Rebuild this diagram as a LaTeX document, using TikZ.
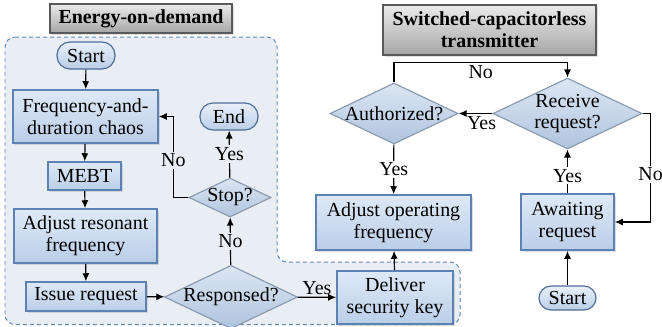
\documentclass[tikz,border=0pt]{standalone}
\usepackage{fontspec}
\setmainfont{Liberation Serif}
\usetikzlibrary{arrows.meta}
\usetikzlibrary{shapes.geometric}
\usetikzlibrary{shadows}

\definecolor{boxtop}{RGB}{222,233,247}
\definecolor{boxbot}{RGB}{186,206,232}
\definecolor{boxline}{RGB}{92,130,180}
\definecolor{diatop}{RGB}{220,230,243}
\definecolor{diabot}{RGB}{176,196,222}
\definecolor{dialine}{RGB}{140,155,175}
\definecolor{pillline}{RGB}{80,110,150}
\definecolor{regionbg}{RGB}{233,238,245}
\definecolor{regionline}{RGB}{95,135,185}

\tikzset{
  titlebox/.style={draw=black!65, line width=0.6pt, top color=black!8, bottom color=black!35,
    drop shadow={opacity=0.25, shadow xshift=1bp, shadow yshift=-1bp},
    font=\fontsize{10}{11}\selectfont\bfseries, align=center, inner sep=1bp},
  pill/.style={draw=pillline, line width=0.6pt, rounded corners=6.5bp, top color=boxtop!70!white, bottom color=boxbot,
    minimum width=29bp, minimum height=13.5bp, inner sep=1bp},
  procbox/.style={draw=boxline, line width=0.8pt, top color=boxtop, bottom color=boxbot,
    drop shadow={opacity=0.25, shadow xshift=1bp, shadow yshift=-1bp},
    align=center, inner sep=1bp},
  decision/.style={diamond, aspect=2.1, draw=dialine, line width=0.6pt, top color=diatop, bottom color=diabot,
    align=center, inner sep=0pt},
  tag/.style={inner sep=1bp}
}

\begin{document}
\begin{tikzpicture}[x=0.5bp, y=-0.5bp, font=\fontsize{10}{11}\selectfont]
	\useasboundingbox (0,0) rectangle (662,326);

	% energy-on-demand region
	\path[fill=regionbg, draw=regionline, line width=0.5pt, dash pattern=on 2bp off 1.5bp, rounded corners=5bp]
		(5,37) -- (277,37) -- (277,262) -- (460,262) -- (460,324.5) -- (5,324.5) -- cycle;

	\begin{scope}[every node/.style=titlebox]
		\node[minimum width=91bp, minimum height=14.5bp] (eod) at (141,18.5) {Energy-on-demand};
		\node[minimum width=106.5bp, minimum height=25bp] (sct) at (489.5,30) {Switched-capacitorless\\transmitter};
	\end{scope}

	\begin{scope}[every node/.style=pill]
		\node (start1) at (86,55.5) {Start};
		\node (end1) at (229,116.5) {End};
		\node[minimum width=28.5bp, minimum height=12bp, rounded corners=6bp] (start2) at (567.5,298) {Start};
	\end{scope}

	\begin{scope}[every node/.style=procbox]
		\node[minimum width=72.5bp, minimum height=26.5bp] (chaos) at (85.5,116.5) {Frequency-and-\\duration chaos};
		\node[minimum width=36.5bp, minimum height=14bp] (mebt) at (84.5,176) {MEBT};
		\node[minimum width=71.5bp, minimum height=27bp] (reso) at (85.5,236) {Adjust resonant\\frequency};
		\node[minimum width=60bp, minimum height=14.5bp] (issue) at (86,296.5) {Issue request};
		\node[minimum width=58bp, minimum height=26.5bp] (deliver) at (395,297.5) {Deliver\\security key};
		\node[minimum width=77.5bp, minimum height=27.5bp] (adjop) at (393.5,222.5) {Adjust operating\\frequency};
		\node[minimum width=46.5bp, minimum height=28bp] (await) at (567.5,222) {Awaiting\\request};
	\end{scope}

	\begin{scope}[every node/.style=decision]
		\node (resp) at (231,297) {Responsed?};
		\node (stop) at (230,197.5) {Stop?};
		\node (auth) at (394,113.5) {Authorized?};
		\node (recv) at (567.5,113.5) {Receive\\request?};
	\end{scope}

	\begin{scope}[>={Latex[length=4pt,width=3.5pt]},
	              every edge/.style={draw=black, line width=0.6pt, ->}]
		\path (start1) edge (chaos);
		\path (chaos) edge (mebt);
		\path (mebt) edge (reso);
		\path (reso) edge (issue);
		\path (issue) edge (resp);
		\path (resp) edge node[tag, above] {Yes} (deliver);
		\path (resp) edge node[tag, fill=regionbg] {No} (stop);
		\path (stop) edge node[tag, fill=regionbg] {Yes} (end1);
		\path (deliver) edge (adjop);
		\path (auth) edge node[tag, fill=white] {Yes} (adjop);
		\path (recv) edge node[tag, below, xshift=3bp] {Yes} (auth);
		\path (await) edge node[tag, fill=white, pos=0.4] {Yes} (recv);
		\path (start2) edge (await);
		\draw[->, line width=0.6pt] (stop.west) -- ++(-15,0) |- node[tag, fill=regionbg, pos=0.23] {No} (chaos.east);
		\draw[->, line width=0.6pt] (auth.north) -- ++(0,-20) -| node[tag, below, pos=0.25] {No} (recv.north);
		\draw[->, line width=0.6pt] (recv.east) -- ++(8,0) |- node[tag, fill=white, pos=0.28] {No} (await.east);
	\end{scope}
\end{tikzpicture}
\end{document}
